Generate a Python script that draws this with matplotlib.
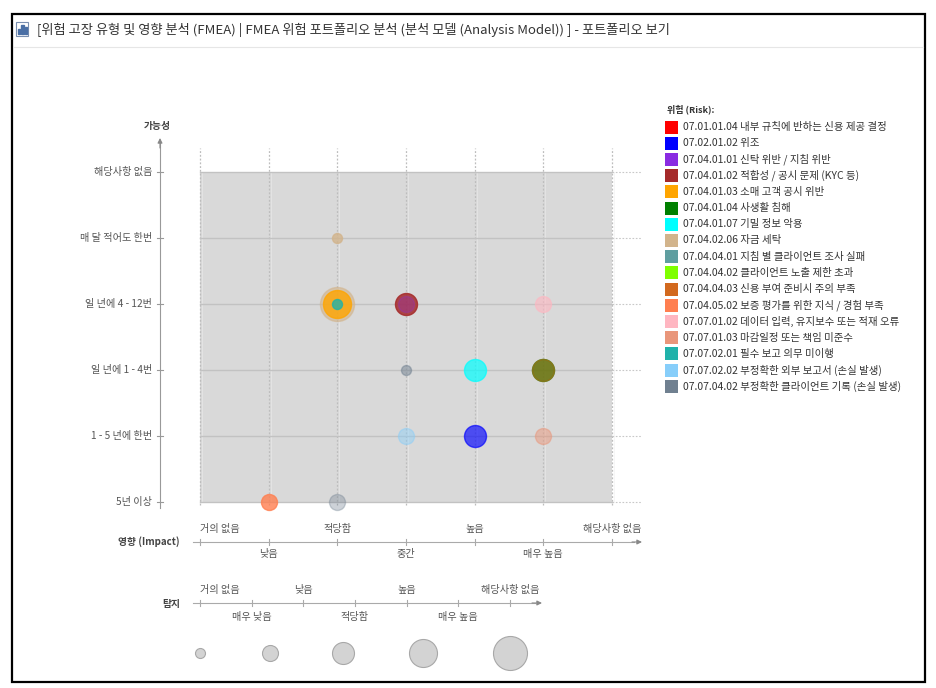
import matplotlib
matplotlib.use("Agg")
import matplotlib.pyplot as plt
from matplotlib.patches import Rectangle

plt.rcParams['font.family'] = ['Noto Sans CJK KR', 'DejaVu Sans']

W, H = 937, 688

# ---------------- data ----------------
title = "[위험 고장 유형 및 영향 분석 (FMEA) | FMEA 위험 포트폴리오 분석 (분석 모델 (Analysis Model)) ] - 포트폴리오 보기"

impact_labels = ["거의 없음", "낮음", "적당함", "중간", "높음", "매우 높음", "해당사항 없음"]
likelihood_labels = ["5년 이상", "1 - 5 년에 한번", "일 년에 1 - 4번", "일 년에 4 - 12번",
                     "매 달 적어도 한번", "해당사항 없음"]
detection_labels = ["거의 없음", "매우 낮음", "낮음", "적당함", "높음", "매우 높음", "해당사항 없음"]
detection_sample_levels = [1, 2, 3, 4, 5]

risk_labels = [
    "07.01.01.04 내부 규칙에 반하는 신용 제공 결정",
    "07.02.01.02 위조",
    "07.04.01.01 신탁 위반 / 지침 위반",
    "07.04.01.02 적합성 / 공시 문제 (KYC 등)",
    "07.04.01.03 소매 고객 공시 위반",
    "07.04.01.04 사생활 침해",
    "07.04.01.07 기밀 정보 악용",
    "07.04.02.06 자금 세탁",
    "07.04.04.01 지침 별 클라이언트 조사 실패",
    "07.04.04.02 클라이언트 노출 제한 초과",
    "07.04.04.03 신용 부여 준비시 주의 부족",
    "07.04.05.02 보증 평가를 위한 지식 / 경험 부족",
    "07.07.01.02 데이터 입력, 유지보수 또는 적재 오류",
    "07.07.01.03 마감일정 또는 책임 미준수",
    "07.07.02.01 필수 보고 의무 미이행",
    "07.07.02.02 부정확한 외부 보고서 (손실 발생)",
    "07.07.04.02 부정확한 클라이언트 기록 (손실 발생)",
]
risk_colors = ["#ff0000", "#0000ff", "#8a2be2", "#a52a2a", "#ffa500", "#008000", "#00ffff",
               "#d2b48c", "#5f9ea0", "#7fff00", "#d2691e", "#ff7f50", "#ffb6c1", "#e9967a",
               "#20b2aa", "#87cefa", "#708090"]

# each bubble: risk index, impact index, likelihood index, detection level
point_risk       = [7, 7, 4, 14, 3, 2, 12, 16, 6, 5, 10, 15, 1, 13, 11, 16]
point_impact     = [2, 2, 2, 2, 3, 3, 5, 3, 4, 5, 5, 3, 4, 5, 1, 2]
point_likelihood = [4, 3, 3, 3, 3, 3, 3, 2, 2, 2, 2, 1, 1, 1, 0, 0]
point_detection  = [1, 5, 4, 1, 3, 2, 2, 1, 3, 3, 3, 2, 3, 2, 2, 2]
point_alpha      = [0.8, 0.6, 0.8, 0.8, 0.85, 0.25, 0.6, 0.5, 0.7, 0.8, 0.45, 0.45, 0.65, 0.5, 0.8, 0.35]

# ---------------- helpers ----------------
def add_px_axes(x0, y0, x1, y1):
    return fig.add_axes([x0 / W, 1 - y1 / H, (x1 - x0) / W, (y1 - y0) / H])

def radius_px(level):
    return 2 + 3 * level

def size_pt2(level):
    return (2 * radius_px(level) * 0.72) ** 2

TICK_FS = 7.3
fig = plt.figure(figsize=(W / 100, H / 100), dpi=100)
fig.patch.set_facecolor("white")

# frame + title
bg = add_px_axes(0, 0, W, H)
bg.set_xlim(0, W)
bg.set_ylim(H, 0)
bg.axis("off")
bg.add_patch(Rectangle((12, 14), 913, 668, fill=False, edgecolor="black", linewidth=1.6))
bg.plot([14, 923], [47, 47], color="#e6e6e6", linewidth=0.8)
# small chart icon
bg.add_patch(Rectangle((16, 22), 12, 14, fill=False, edgecolor="#7a8fb0", linewidth=0.8))
for i, hgt in enumerate([5, 9, 7]):
    bg.add_patch(Rectangle((18 + i * 3.5, 34 - hgt), 2.2, hgt, color="#4a6fa5"))
bg.text(37, 30, title, fontsize=9.5, color="#333333", va="center", ha="left")

# ---------------- main bubble chart ----------------
ax = add_px_axes(100, 120, 660, 580)
sx = 412 / 6.0
sy = 330 / 5.0
ax.set_xlim(-100 / sx, 6 + 48 / sx)
ax.set_ylim(-78 / sy, 5 + 52 / sy)
ax.axis("off")

nx = len(impact_labels) - 1
ny = len(likelihood_labels) - 1
ax.add_patch(Rectangle((0, 0), nx, ny, facecolor="#d9d9d9", edgecolor="none", zorder=0))

for i in range(nx + 1):
    ax.plot([i, i], [-0.05, ny + 0.36], color="#bdbdbd", linewidth=0.9,
            linestyle=(0, (1.5, 1.5)), zorder=1)
    ax.plot([i + 0.03, i + 0.03], [0, ny], color="#eeeeee", linewidth=0.6,
            alpha=0.6, zorder=1)
for j in range(ny + 1):
    ax.plot([0, nx], [j, j], color="#c2c2c2", linewidth=1.0, zorder=1)
    ax.plot([nx, nx + 0.42], [j, j], color="#c8c8c8", linewidth=0.8,
            linestyle=(0, (1.5, 1.5)), zorder=1)

# bubbles
for r, xi, yi, d, a in zip(point_risk, point_impact, point_likelihood, point_detection, point_alpha):
    ax.scatter(xi, yi, s=size_pt2(d), color=risk_colors[r], alpha=a,
               edgecolors=risk_colors[r], linewidths=1.0, zorder=3, clip_on=False)

# y axis (likelihood)
yax_x = -40 / sx
ax.plot([yax_x, yax_x], [-6 / sy, ny + 29 / sy], color="#999999", linewidth=0.8, zorder=2)
ax.annotate("", xy=(yax_x, ny + 34 / sy), xytext=(yax_x, ny + 24 / sy),
            arrowprops=dict(arrowstyle="-|>", color="#888888", lw=0.8,
                            mutation_scale=7, shrinkA=0, shrinkB=0))
for j, lab in enumerate(likelihood_labels):
    ax.plot([yax_x - 3 / sx, yax_x + 3 / sx], [j, j], color="#999999", linewidth=0.8)
    ax.text(yax_x - 8 / sx, j, lab, fontsize=TICK_FS, color="#555555", ha="right", va="center")
ax.text(yax_x - 3 / sx, ny + 46 / sy, "가능성", fontsize=7, color="#444444",
        ha="center", va="center", fontweight="bold")

# x axis (impact)
xax_y = -40 / sy
ax.plot([-7 / sx, nx + 22 / sx], [xax_y, xax_y], color="#aaaaaa", linewidth=0.8)
ax.annotate("", xy=(nx + 30 / sx, xax_y), xytext=(nx + 20 / sx, xax_y),
            arrowprops=dict(arrowstyle="-|>", color="#888888", lw=0.8,
                            mutation_scale=7, shrinkA=0, shrinkB=0))
for i, lab in enumerate(impact_labels):
    ax.plot([i, i], [xax_y - 3 / sy, xax_y + 3 / sy], color="#aaaaaa", linewidth=0.8)
    if i % 2 == 0:
        ha = "left" if i == 0 else "center"
        ax.text(i, xax_y + 13 / sy, lab, fontsize=TICK_FS, color="#555555", ha=ha, va="center")
    else:
        ax.text(i, xax_y - 12 / sy, lab, fontsize=TICK_FS, color="#555555", ha="center", va="center")
ax.text(-20 / sx, xax_y, "영향 (Impact)", fontsize=7, color="#444444",
        ha="right", va="center", fontweight="bold")

# ---------------- detection (size) legend ----------------
lx = add_px_axes(100, 580, 580, 685)
ds = 310 / 6.0
lx.set_xlim(-100 / ds, 6 + 70 / ds)
lx.set_ylim(685, 580)
lx.axis("off")
nd = len(detection_labels) - 1
lx.plot([-7 / ds, nd + 25 / ds], [603, 603], color="#aaaaaa", linewidth=0.8)
lx.annotate("", xy=(nd + 32 / ds, 603), xytext=(nd + 22 / ds, 603),
            arrowprops=dict(arrowstyle="-|>", color="#888888", lw=0.8,
                            mutation_scale=7, shrinkA=0, shrinkB=0))
for i, lab in enumerate(detection_labels):
    lx.plot([i, i], [600, 606], color="#aaaaaa", linewidth=0.8)
    if i % 2 == 0:
        ha = "left" if i == 0 else "center"
        lx.text(i, 590, lab, fontsize=TICK_FS, color="#555555", ha=ha, va="center")
    else:
        lx.text(i, 617, lab, fontsize=TICK_FS, color="#555555", ha="center", va="center")
lx.text(-20 / ds, 604, "탐지", fontsize=7, color="#444444", ha="right", va="center",
        fontweight="bold")
sample_x = [0, 70 / ds, 143 / ds, 223 / ds, 310 / ds]
for xs, lev in zip(sample_x, detection_sample_levels):
    lx.scatter(xs, 653, s=size_pt2(lev), color="#d3d3d3", edgecolors="#a8a8a8",
               linewidths=0.8, clip_on=False)

# ---------------- risk legend ----------------
lg = add_px_axes(660, 95, 930, 400)
lg.set_xlim(660, 930)
lg.set_ylim(400, 95)
lg.axis("off")
lg.text(667, 109, "위험 (Risk):", fontsize=6.5, color="#333333", ha="left", va="center",
        fontweight="bold")
row0, step = 127, 16.2
for k, (lab, col) in enumerate(zip(risk_labels, risk_colors)):
    yk = row0 + k * step
    lg.add_patch(Rectangle((665, yk - 6.5), 13, 13, facecolor=col, edgecolor="none"))
    lg.text(683, yk, lab, fontsize=7.5, color="#333333", ha="left", va="center")

fig.savefig("out.png", dpi=100)
